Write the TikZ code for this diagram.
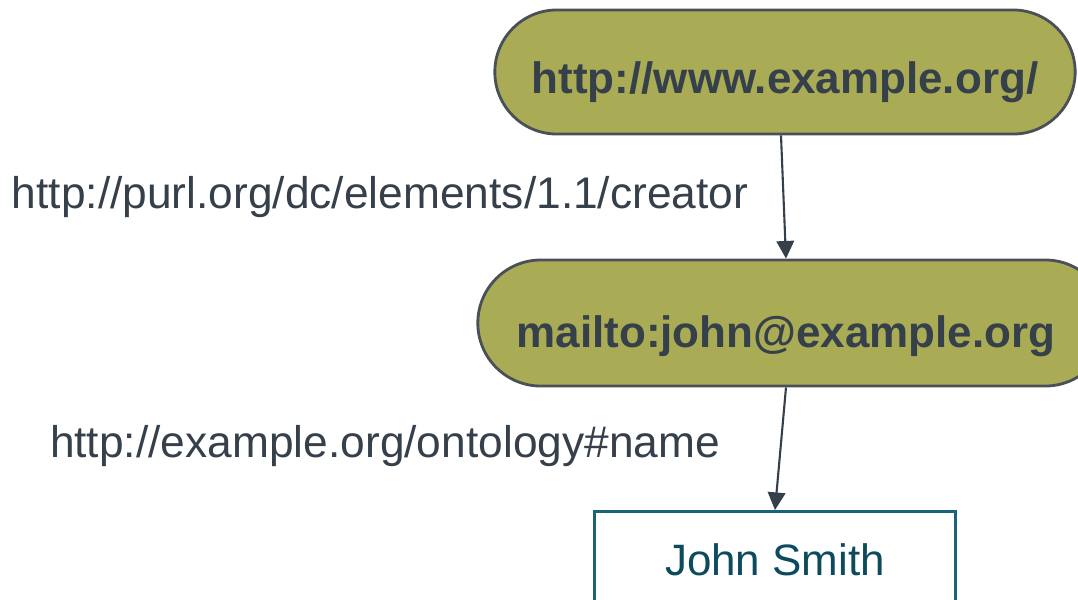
\documentclass[tikz,border=0pt]{standalone}
\usepackage{fontspec}
\setmainfont{Liberation Sans}
\usetikzlibrary{arrows.meta,shapes.misc}
\definecolor{olive}{HTML}{A9AC55}
\definecolor{inkgrey}{HTML}{36404A}
\definecolor{rimgrey}{HTML}{4A5058}
\definecolor{teal}{HTML}{1A6378}
\definecolor{tealtext}{HTML}{0C4A5E}
\newcommand{\lowered}[2]{\raisebox{-#1}[\height][\depth]{#2}}
\tikzset{
  resource/.style={rounded rectangle, draw=rimgrey, line width=0.8pt, fill=olive,
    text=inkgrey, font=\fontsize{12.5}{14}\selectfont\bfseries, inner sep=0pt},
  literal/.style={rectangle, draw=teal, line width=0.8pt, fill=white,
    text=tealtext, font=\fontsize{12.5}{14}\selectfont, inner sep=0pt},
  property/.style={text=inkgrey, font=\fontsize{12.6}{14}\selectfont, inner sep=0pt},
  link/.style={draw=inkgrey, line width=0.6pt, -{Triangle[length=5pt,width=5pt]}}
}
\begin{document}
\begin{tikzpicture}[x=0.01cm, y=-0.01cm]
  \useasboundingbox (0,0) rectangle (1078,599);
  % nodes
  \node[resource, minimum width=5.8cm, minimum height=1.24cm] (site) at (785,72) {\lowered{0.1cm}{http://www.example.org/}};
  \node[resource, minimum width=6.3cm, minimum height=1.26cm] (mail) at (793,323) {\hspace*{-0.14cm}\lowered{0.13cm}{mailto:john@example.org}};
  \node[literal, minimum width=3.6cm, minimum height=1.3cm, anchor=north] (name) at (775,510) {};
  \node[tealtext, font=\fontsize{12.5}{14}\selectfont] (nametext) at (775,560) {John Smith};
  % property labels
  \node[property] (creator) at (380,197) {http://purl.org/dc/elements/1.1/creator};
  \node[property] (ontname) at (385,446) {http://example.org/ontology\#name};
  % arcs
  \draw[link] ([xshift=-0.04cm]site.south) -- ([xshift=-0.07cm]mail.north);
  \draw[link] ([xshift=-0.07cm]mail.south) -- (name.north);
\end{tikzpicture}
\end{document}
